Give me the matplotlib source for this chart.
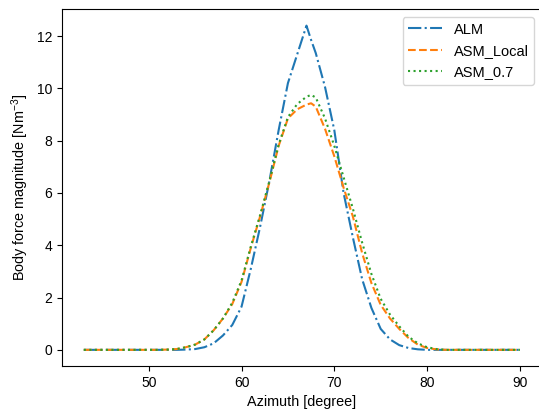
import numpy as np
import matplotlib
matplotlib.use('Agg')
from matplotlib import pyplot as plt

plt.rcParams['font.family'] = ['Liberation Sans', 'DejaVu Sans']
plt.rcParams['mathtext.default'] = 'regular'

# azimuth grid [degree]
azimuth = [43, 44, 45, 46, 47, 48, 49, 50, 51, 52, 53, 54, 55, 56, 57, 58, 59,
           60, 61, 62, 63, 64, 65, 66, 67, 67.5, 68, 69, 70, 71, 72, 73, 74,
           75, 76, 77, 78, 79, 80, 81, 82, 83, 84, 85, 86, 87, 88, 89, 90]

alm = [0, 0, 0, 0, 0, 0, 0, 0, 0, 0, 0, 0.01, 0.03, 0.1, 0.25, 0.55, 0.95,
       1.65, 3.1, 4.7, 6.45, 8.4, 10.2, 11.3, 12.4, 11.85, 11.35, 10.05, 8.4,
       6.0, 4.3, 2.7, 1.6, 0.8, 0.4, 0.18, 0.07, 0.02, 0, 0, 0, 0, 0, 0, 0,
       0, 0, 0, 0]

asm_local = [0, 0, 0, 0, 0, 0, 0, 0, 0, 0.01, 0.03, 0.1, 0.2, 0.4, 0.75, 1.2,
             1.75, 2.6, 3.9, 5.1, 6.4, 7.8, 8.85, 9.2, 9.38, 9.43, 9.3, 8.45,
             7.4, 6.2, 5.1, 3.7, 2.55, 1.72, 1.2, 0.8, 0.45, 0.2, 0.07, 0.02,
             0, 0, 0, 0, 0, 0, 0, 0, 0]

asm_07 = [0, 0, 0, 0, 0, 0, 0, 0, 0, 0.01, 0.03, 0.1, 0.2, 0.4, 0.75, 1.2,
          1.8, 2.65, 3.95, 5.15, 6.45, 7.85, 8.9, 9.4, 9.68, 9.75, 9.65, 8.85,
          7.8, 6.6, 5.4, 4.1, 2.9, 1.95, 1.35, 0.9, 0.5, 0.25, 0.1, 0.03,
          0, 0, 0, 0, 0, 0, 0, 0, 0]

fig = plt.figure(figsize=(5.39, 4.09), dpi=100)
ax = fig.add_axes([0.115, 0.105, 0.890, 0.872])

ax.plot(azimuth, alm, '-.', label='ALM')
ax.plot(azimuth, asm_local, '--', label='ASM_Local')
ax.plot(azimuth, asm_07, ':', label='ASM_0.7')

ax.set_xlabel('Azimuth [degree]', fontsize=10.4)
ax.set_ylabel('Body force magnitude [Nm$^{-3}$]', fontsize=10.4)
ax.legend(loc='upper right', fontsize=10.5, handlelength=2.3)

fig.savefig('out.png', dpi=100)
